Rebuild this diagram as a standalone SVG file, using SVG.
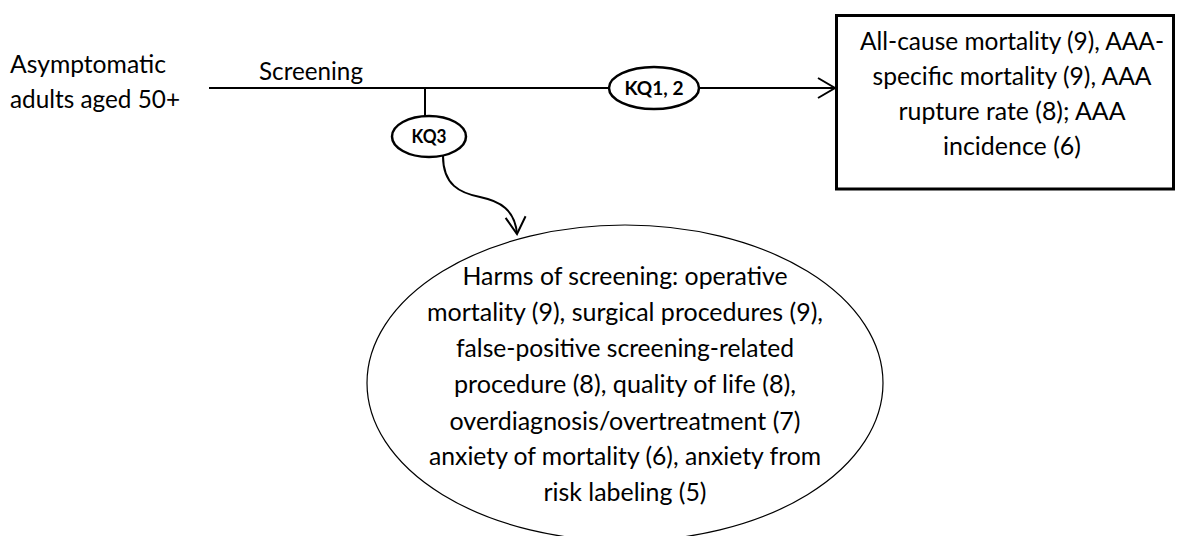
<svg xmlns="http://www.w3.org/2000/svg" width="1178" height="536" viewBox="0 0 1178 536">
<defs>
<style>
.t{font-family:Lato,"Open Sans","Liberation Sans",sans-serif;font-size:25px;fill:#000}
.c{text-anchor:middle}
.b{font-family:Lato,"Open Sans","Liberation Sans",sans-serif;font-size:19px;font-weight:bold;fill:#000;text-anchor:middle}
.ln{fill:none;stroke:#000;stroke-width:2}
.kq{fill:#fff;stroke:#000;stroke-width:2.5}
</style>
<marker id="arr" markerWidth="20" markerHeight="24" refX="18" refY="11" orient="auto" markerUnits="userSpaceOnUse">
<path d="M1,1 L18,11 L1,21" fill="none" stroke="#000" stroke-width="2"/>
</marker>
</defs>
<rect width="1178" height="536" fill="#fff"/>
<g id="connectors">
<line class="ln" x1="209" y1="88" x2="835" y2="88" marker-end="url(#arr)"/>
<line class="ln" x1="425" y1="88" x2="425" y2="116"/>
<path class="ln" d="M443,156 C443,185 460,193 480,197 C500,201 515,210 517,234" marker-end="url(#arr)"/>
</g>
<g id="population">
<text class="t" x="10" y="73" textLength="156" lengthAdjust="spacingAndGlyphs">Asymptomatic</text>
<text class="t" x="10" y="108" textLength="170" lengthAdjust="spacingAndGlyphs">adults aged 50+</text>
</g>
<g id="screening-label">
<text class="t" x="259" y="80" textLength="104" lengthAdjust="spacingAndGlyphs">Screening</text>
</g>
<g id="kq3">
<ellipse class="kq" cx="429" cy="136.5" rx="37" ry="20.5"/>
<text class="b" x="429" y="143" textLength="35" lengthAdjust="spacingAndGlyphs">KQ3</text>
</g>
<g id="kq12">
<ellipse class="kq" cx="654" cy="88" rx="45" ry="21"/>
<text class="b" x="654" y="94.5" textLength="59" lengthAdjust="spacingAndGlyphs">KQ1, 2</text>
</g>
<g id="outcomes">
<rect x="836.5" y="15.5" width="337" height="173.5" fill="#fff" stroke="#000" stroke-width="3"/>
<text class="t c" x="1012" y="50" textLength="304" lengthAdjust="spacingAndGlyphs">All-cause mortality (9), AAA-</text>
<text class="t c" x="1012" y="85" textLength="279" lengthAdjust="spacingAndGlyphs">specific mortality (9), AAA</text>
<text class="t c" x="1012" y="120" textLength="227" lengthAdjust="spacingAndGlyphs">rupture rate (8); AAA</text>
<text class="t c" x="1012" y="155" textLength="138" lengthAdjust="spacingAndGlyphs">incidence (6)</text>
</g>
<g id="harms">
<ellipse cx="625" cy="383" rx="258" ry="158" fill="#fff" stroke="#000" stroke-width="1.2"/>
<text class="t c" x="625" y="285" textLength="325" lengthAdjust="spacingAndGlyphs">Harms of screening: operative</text>
<text class="t c" x="625" y="321" textLength="396" lengthAdjust="spacingAndGlyphs">mortality (9), surgical procedures (9),</text>
<text class="t c" x="625" y="357" textLength="338" lengthAdjust="spacingAndGlyphs">false-positive screening-related</text>
<text class="t c" x="625" y="393" textLength="342" lengthAdjust="spacingAndGlyphs">procedure (8), quality of life (8),</text>
<text class="t c" x="625" y="430" textLength="351" lengthAdjust="spacingAndGlyphs">overdiagnosis/overtreatment (7)</text>
<text class="t c" x="625" y="465" textLength="392" lengthAdjust="spacingAndGlyphs">anxiety of mortality (6), anxiety from</text>
<text class="t c" x="625" y="501" textLength="163" lengthAdjust="spacingAndGlyphs">risk labeling (5)</text>
</g>
</svg>
